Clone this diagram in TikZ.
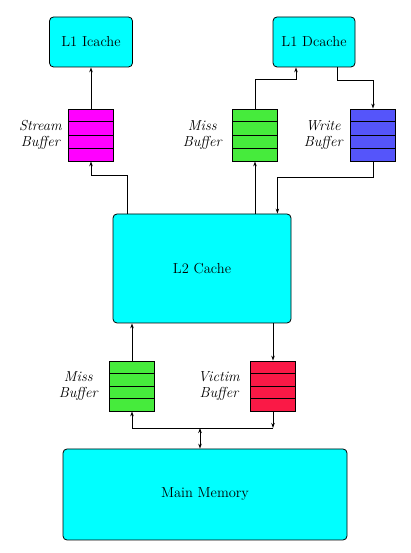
\documentclass[tikz,border=0pt]{standalone}
\usepackage{fontspec}
\usepackage{tikz}
\usetikzlibrary{calc,positioning,arrows.meta}
\definecolor{mycyan}{RGB}{0,255,255}
\definecolor{mymagenta}{RGB}{255,0,255}
\definecolor{mygreen}{RGB}{70,235,60}
\definecolor{myblue}{RGB}{85,85,250}
\definecolor{myred}{RGB}{250,25,70}
\tikzstyle{cache}=[draw,fill=mycyan,rounded corners=4pt,inner sep=0pt,font=\fontsize{14.5}{16}\selectfont]
\tikzstyle{buffer}=[draw,minimum width=45pt,minimum height=52pt,inner sep=0pt]
\tikzstyle{buflabel}=[align=center,inner sep=0pt,font=\fontsize{14.5}{16}\selectfont\itshape]
\newcommand{\bufrows}[1]{\foreach \f in {0.25,0.5,0.75}
  \draw ($(#1.north west)!\f!(#1.south west)$) -- ($(#1.north east)!\f!(#1.south east)$);}

\begin{document}
\begin{tikzpicture}[x=1pt,y=1pt,line width=0.8pt,>={Stealth[length=5pt,width=3.5pt]}]
\useasboundingbox (0,0) rectangle (410,553);
\draw (91, 511) node [cache,minimum width=83pt,minimum height=50pt] (ic) {L1 Icache};
\draw (314, 511) node [cache,minimum width=82pt,minimum height=50pt] (dc) {L1 Dcache};
\draw (91, 418) node [buffer,fill=mymagenta] (sb) {};
\draw (255, 418) node [buffer,fill=mygreen] (mb) {};
\draw (373, 418) node [buffer,fill=myblue] (wb) {};
\draw (202, 284.5) node [cache,minimum width=178pt,minimum height=109pt] (l2) {L2 Cache};
\draw (132, 167) node [buffer,fill=mygreen,minimum height=50pt] (lmb) {};
\draw (273, 167) node [buffer,fill=myred,minimum height=50pt] (vb) {};
\draw (205, 58.5) node [cache,minimum width=284pt,minimum height=91pt] (mm) {Main Memory};
\bufrows{sb} \bufrows{mb} \bufrows{wb} \bufrows{lmb} \bufrows{vb}
% labels
\node [buflabel,left=6pt of sb] {Stream\\Buffer};
\node [buflabel,left=10pt of mb] {Miss\\Buffer};
\node [buflabel,left=7pt of wb] {Write\\Buffer};
\node [buflabel,left=11pt of lmb] {Miss\\Buffer};
\node [buflabel,left=10pt of vb] {Victim\\Buffer};
% connectors
\coordinate (bus) at (200,125);
\draw[->] (sb) -- (ic);
\draw[->] ([xshift=15pt]l2.north west) -- ++(0,38pt) -| (sb.south);
\draw[->] (l2.north -| mb.south) -- (mb.south);
\draw[->] (mb.north) -- ++(0,29pt) -| ([xshift=-18pt]dc.south);
\draw[->] ([xshift=23pt]dc.south) -- ++(0,-13pt) -| (wb.north);
\draw[->] (wb.south) -- ++(0,-16pt) -| ([xshift=-14pt]l2.north east);
\draw[->] (lmb.north) -- (lmb.north |- l2.south);
\draw[->] (l2.south -| vb.north) -- (vb.north);
\draw[->] (vb.south) -- (vb.south |- bus);
\draw[->] (vb.south |- bus) -| (lmb.south);
\draw[<->] (bus) -- (bus |- mm.north);
\end{tikzpicture}
\end{document}
